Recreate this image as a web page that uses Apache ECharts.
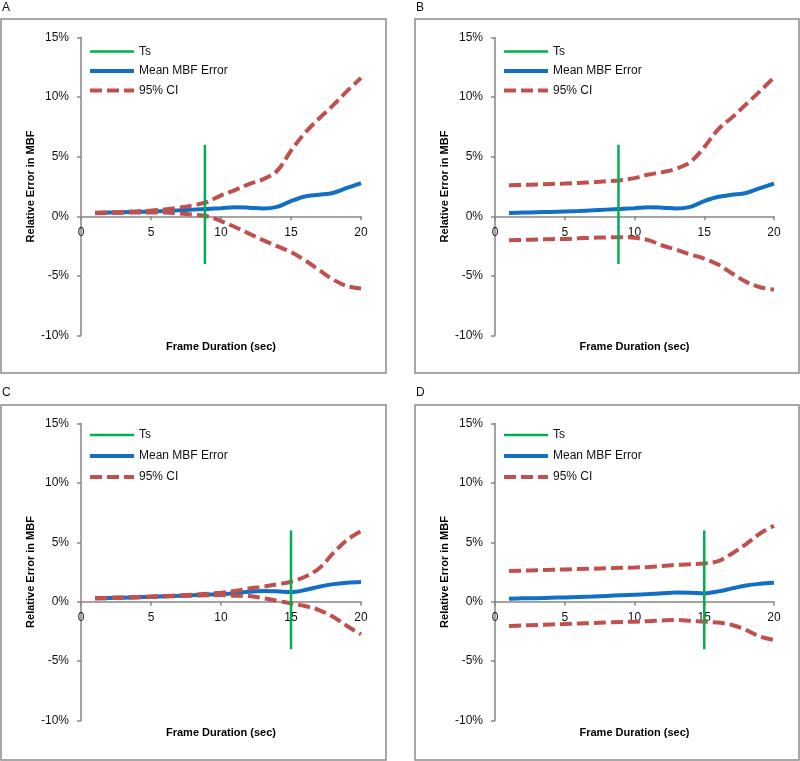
<!DOCTYPE html>
<html>
<head>
<meta charset="utf-8">
<script src="https://cdn.jsdelivr.net/npm/echarts@6/dist/echarts.min.js"></script>
<style>html,body{margin:0;padding:0;background:#fff}#c{width:800px;height:761px}</style>
</head>
<body>
<div id="c"></div>
<script>
// Frame durations (sec)
var frames = [1,2,3,4,5,6,7,8,9,10,11,12,13,14,15,16,17,18,19,20];
var yTicks = [-10,-5,0,5,10,15];
var xTicks = [0,5,10,15,20];
var panelLabels = ['A','B','C','D'];
var tsValues = [8.85, 8.85, 15, 15];
var tsRange = [-4, 6];

// Panel A
var meanA  = [0.28,0.31,0.34,0.37,0.41,0.45,0.5,0.56,0.62,0.68,0.76,0.72,0.65,0.79,1.27,1.66,1.8,1.96,2.38,2.78];
var upperA = [0.3,0.33,0.37,0.42,0.48,0.58,0.72,0.92,1.2,1.75,2.2,2.7,3.1,3.8,5.5,7.0,8.2,9.3,10.5,11.6];
var lowerA = [0.25,0.28,0.3,0.32,0.33,0.32,0.25,0.14,0.0,-0.4,-0.9,-1.45,-2.0,-2.5,-3.0,-3.7,-4.5,-5.3,-5.85,-6.05];
// Panel B
var meanB  = [0.28,0.31,0.34,0.37,0.41,0.45,0.5,0.56,0.62,0.68,0.76,0.72,0.65,0.79,1.27,1.64,1.8,1.96,2.36,2.75];
var upperB = [2.6,2.63,2.67,2.71,2.75,2.8,2.86,2.94,3.03,3.2,3.5,3.7,4.0,4.55,5.8,7.3,8.3,9.4,10.5,11.65];
var lowerB = [-2.0,-1.98,-1.95,-1.92,-1.9,-1.85,-1.8,-1.77,-1.75,-1.8,-2.0,-2.45,-2.8,-3.2,-3.55,-4.05,-4.8,-5.5,-5.95,-6.15];
// Panel C
var meanC  = [0.28,0.31,0.34,0.38,0.42,0.46,0.5,0.55,0.6,0.64,0.72,0.84,0.9,0.87,0.81,0.98,1.26,1.48,1.6,1.65];
var upperC = [0.3,0.33,0.36,0.4,0.44,0.48,0.53,0.59,0.66,0.76,0.9,1.12,1.26,1.46,1.68,2.1,2.8,4.06,5.2,5.94];
var lowerC = [0.28,0.3,0.33,0.36,0.39,0.43,0.47,0.51,0.54,0.56,0.5,0.48,0.3,0.08,-0.14,-0.36,-0.7,-1.26,-2.05,-2.75];
// Panel D
var meanD  = [0.25,0.28,0.3,0.33,0.36,0.4,0.44,0.49,0.54,0.59,0.64,0.71,0.78,0.76,0.7,0.87,1.12,1.37,1.51,1.6];
var upperD = [2.58,2.61,2.65,2.68,2.72,2.75,2.78,2.81,2.85,2.88,2.92,3.0,3.1,3.16,3.22,3.42,4.06,4.85,5.74,6.4];
var lowerD = [-2.05,-2.0,-1.96,-1.92,-1.88,-1.84,-1.8,-1.75,-1.71,-1.68,-1.64,-1.58,-1.54,-1.6,-1.68,-1.76,-1.96,-2.38,-2.94,-3.22];

var means = [meanA, meanB, meanC, meanD];
var uppers = [upperA, upperB, upperC, upperD];
var lowers = [lowerA, lowerB, lowerC, lowerD];

var GREEN = '#00B050', BLUE = '#1170C4', RED = '#C0504D', AXIS = '#868686';
var FONT = 'Liberation Sans, Arial, sans-serif';

var grids = [
  {left: 81, top: 37.5, width: 280, height: 298, outerBoundsMode: 'none'},
  {left: 495, top: 37.5, width: 279, height: 298, outerBoundsMode: 'none'},
  {left: 81, top: 423.5, width: 280, height: 297, outerBoundsMode: 'none'},
  {left: 495, top: 423.5, width: 279, height: 297, outerBoundsMode: 'none'}
];
var frameRects = [
  {x: 1, y: 19, w: 385, h: 354},
  {x: 415, y: 19, w: 384, h: 354},
  {x: 1, y: 405, w: 385, h: 355},
  {x: 415, y: 405, w: 384, h: 355}
];
var legendPos = [
  {left: 88, top: 45.5},
  {left: 502, top: 45.5},
  {left: 88, top: 429},
  {left: 502, top: 429}
];
var labelPos = [{x: 2, y: 2}, {x: 416, y: 2}, {x: 2, y: 387}, {x: 416, y: 387}];

function pairs(ys) { return frames.map(function (f, i) { return [f, ys[i]]; }); }

var yMin = yTicks[0], yMax = yTicks[yTicks.length - 1];
var xAxes = [], yAxes = [], series = [], legends = [], graphics = [];
for (var p = 0; p < 4; p++) {
  // lift the x axis (line, ticks, labels) from the grid bottom up to the y = 0 level
  var zeroLift = grids[p].height * (0 - yMin) / (yMax - yMin);
  xAxes.push({
    type: 'value', gridIndex: p, min: xTicks[0], max: xTicks[xTicks.length - 1], interval: 5,
    position: 'bottom', offset: -zeroLift,
    name: 'Frame Duration (sec)', nameLocation: 'middle', nameGap: 125.5, nameMoveOverlap: false,
    nameTextStyle: {fontFamily: FONT, fontSize: 11, fontWeight: 'bold', color: '#000'},
    axisLine: {onZero: false, lineStyle: {color: AXIS, width: 1.5}},
    axisTick: {show: true, length: 4, lineStyle: {color: AXIS, width: 1.5}},
    axisLabel: {fontFamily: FONT, fontSize: 12, color: '#111', margin: 10, showMinLabel: true},
    splitLine: {show: false}
  });
  yAxes.push({
    type: 'value', gridIndex: p, min: yMin, max: yMax, interval: 5,
    name: 'Relative Error in MBF', nameLocation: 'middle', nameRotate: 90, nameGap: 45,
    nameTextStyle: {fontFamily: FONT, fontSize: 11, fontWeight: 'bold', color: '#000'},
    axisLine: {show: true, onZero: false, lineStyle: {color: AXIS, width: 1.5}},
    axisTick: {show: true, length: 4, lineStyle: {color: AXIS, width: 1.5}},
    axisLabel: {fontFamily: FONT, fontSize: 12, color: '#111', margin: 12, formatter: '{value}%'},
    splitLine: {show: false}
  });
  series.push({
    name: 'Mean MBF Error', type: 'line', xAxisIndex: p, yAxisIndex: p, data: pairs(means[p]),
    smooth: 0.35, symbol: 'none', z: 2, lineStyle: {color: BLUE, width: 4}, itemStyle: {color: BLUE}
  });
  series.push({
    name: '95% CI', type: 'line', xAxisIndex: p, yAxisIndex: p, data: pairs(uppers[p]),
    smooth: 0.35, symbol: 'none', z: 3, lineStyle: {color: RED, width: 4, type: [12, 5]}, itemStyle: {color: RED}
  });
  series.push({
    name: '95% CI', type: 'line', xAxisIndex: p, yAxisIndex: p, data: pairs(lowers[p]),
    smooth: 0.35, symbol: 'none', z: 3, lineStyle: {color: RED, width: 4, type: [12, 5]}, itemStyle: {color: RED}
  });
  series.push({
    name: 'Ts', type: 'line', xAxisIndex: p, yAxisIndex: p,
    data: [[tsValues[p], tsRange[0]], [tsValues[p], tsRange[1]]],
    symbol: 'none', z: 4, lineStyle: {color: GREEN, width: 2.5}, itemStyle: {color: GREEN}
  });
  legends.push({
    orient: 'vertical', left: legendPos[p].left, top: legendPos[p].top, padding: 0,
    data: [
      {name: 'Ts', lineStyle: {width: 2.5}},
      {name: 'Mean MBF Error', lineStyle: {width: 4}},
      {name: '95% CI', lineStyle: {width: 4, type: [12, 5]}}
    ],
    itemWidth: 44, itemHeight: 14, itemGap: p < 2 ? 7.5 : 9,
    itemStyle: {opacity: 0},
    textStyle: {fontFamily: FONT, fontSize: 12, color: '#111'},
    selectedMode: false
  });
  graphics.push({
    type: 'rect', shape: {x: frameRects[p].x, y: frameRects[p].y, width: frameRects[p].w, height: frameRects[p].h},
    style: {fill: 'none', stroke: '#8a8a8a', lineWidth: 1.5}, z: 0, silent: true
  });
  graphics.push({
    type: 'text', x: labelPos[p].x, y: labelPos[p].y,
    style: {text: panelLabels[p], font: '12px ' + FONT, fill: '#111'}, silent: true
  });
}

var chart = echarts.init(document.getElementById('c'));
chart.setOption({
  animation: false,
  backgroundColor: '#fff',
  grid: grids,
  xAxis: xAxes,
  yAxis: yAxes,
  legend: legends,
  series: series,
  graphic: graphics
});
</script>
</body>
</html>
